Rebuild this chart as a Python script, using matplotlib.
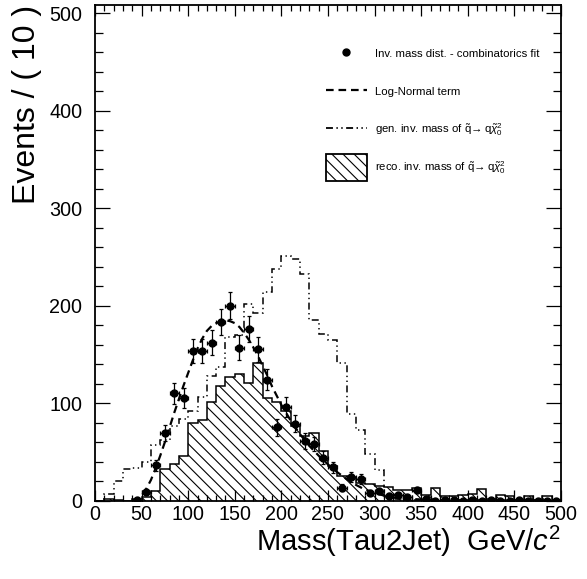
import numpy as np
import matplotlib
matplotlib.use("Agg")
import matplotlib.pyplot as plt
from matplotlib.lines import Line2D
from matplotlib.patches import Patch
from matplotlib.ticker import MultipleLocator

# ---------------- data ----------------
bin_edges = np.arange(0, 510, 10)          # 50 bins of width 10

# reconstructed (hatched) histogram
reco_counts = [0, 2, 1, 0, 2, 4, 10, 32, 37, 46,
               80, 83, 101, 118, 127, 130, 121, 141, 105, 101,
               92, 76, 66, 69, 51, 35, 25, 24, 18, 17,
               15, 14, 11, 11, 13, 6, 13, 5, 5, 6,
               7, 12, 2, 6, 5, 1, 5, 1, 5, 1]

# generated (dash-dot) histogram
gen_counts = [0, 7, 20, 32, 33, 39, 57, 62, 76, 84,
              92, 106, 128, 137, 168, 170, 202, 192, 214, 238,
              251, 248, 232, 185, 171, 165, 141, 89, 72, 48,
              31, 3, 2, 1, 1, 1, 0, 1, 0, 0,
              1, 0, 0, 0, 0, 0, 0, 0, 0, 0]

# data points (bin centres 45 ... 495)
data_x = np.arange(45, 500, 10)
data_counts = [1, 9, 36, 69, 110, 105,
               153, 153, 162, 183, 200, 157, 176, 155, 124, 75,
               96, 79, 61, 58, 44, 34, 13, 24, 22, 8,
               10, 5, 6, 4, 11, 2, 0, 1, 1, 0,
               1, 0, 1, 0, 0, 1, 0, 0, 0, 0]
data_err = [1.0, 3.0, 6.0, 8.3, 10.5, 10.2,
            12.4, 12.4, 12.7, 13.5, 14.1, 12.5, 13.3, 12.4, 11.1, 8.7,
            9.8, 8.9, 7.8, 7.6, 6.6, 5.8, 3.6, 4.9, 4.7, 2.8,
            3.2, 2.2, 2.4, 2.0, 3.3, 1.4, 1.15, 1.0, 1.0, 1.15,
            1.0, 1.15, 1.0, 1.15, 1.15, 1.0, 1.15, 1.15, 1.15, 1.15]

# Log-normal fit term
lognorm_x = [40, 45, 50, 55, 60, 65, 70, 75, 80, 85, 90, 95, 100, 105, 110,
             115, 120, 125, 130, 135, 140, 145, 150, 155, 160, 165, 170, 175,
             180, 185, 190, 200, 210, 220, 230, 240, 250, 260, 270, 280, 290,
             300, 310, 320, 340, 360, 400, 450, 500]
lognorm_y = [0, 1, 5, 12, 21, 33, 46, 60, 75, 90, 104, 118, 131, 144, 156,
             166, 174, 179, 182, 184, 185, 184, 182, 178, 172, 165, 157, 148,
             138, 128, 117, 98, 82, 68, 56, 46, 37, 29, 22, 16, 11,
             8, 5, 3, 1.5, 0.7, 0.2, 0.05, 0]

x_ticks = [0, 50, 100, 150, 200, 250, 300, 350, 400, 450, 500]
y_ticks = [0, 100, 200, 300, 400, 500]

labels = ["Inv. mass dist. - combinatorics fit",
          "Log-Normal term",
          r"gen. inv. mass of $\tilde{\mathrm{q}}\!\rightarrow \mathrm{q}\tilde{\chi}^{2}_{0}$",
          r"reco. inv. mass of $\tilde{\mathrm{q}}\!\rightarrow \mathrm{q}\tilde{\chi}^{2}_{0}$"]

# ---------------- style ----------------
plt.rcParams["font.family"] = ["Liberation Sans", "DejaVu Sans"]
plt.rcParams["mathtext.fontset"] = "custom"
plt.rcParams["mathtext.rm"] = "Liberation Sans"
plt.rcParams["mathtext.it"] = "Liberation Sans:italic"
plt.rcParams["mathtext.bf"] = "Liberation Sans:bold"
plt.rcParams["mathtext.sf"] = "Liberation Sans"
plt.rcParams["hatch.linewidth"] = 0.8
plt.rcParams["lines.scale_dashes"] = False

HATCH = "\\\\\\"
DASHDOT = (0, (5, 2.5, 1, 2.5, 1, 2.5))
DASHED = (0, (5.5, 3.5))

W, H = 587, 579
fig = plt.figure(figsize=(W / 100, H / 100), dpi=100)
ax_l, ax_r, ax_t, ax_b = 95, 561, 4.7, 500.5
ax = fig.add_axes([ax_l / W, 1 - ax_b / H, (ax_r - ax_l) / W, (ax_b - ax_t) / H])

# hatched reco histogram
ax.stairs(reco_counts, bin_edges, fill=True, facecolor="none", edgecolor="black",
          hatch=HATCH, linewidth=0, zorder=1)
ax.stairs(reco_counts, bin_edges, color="black", linewidth=1.1, zorder=2)

# generated histogram, dash-dot-dot
ax.stairs(gen_counts, bin_edges, color="black", linewidth=1.1,
          linestyle=DASHDOT, zorder=3)

# log-normal term
ax.plot(lognorm_x, lognorm_y, color="black", linewidth=1.6,
        linestyle=DASHED, zorder=4)

# data points
dc = np.array(data_counts, dtype=float)
de = np.array(data_err, dtype=float)
ax.errorbar(data_x, dc, xerr=5, yerr=[np.minimum(de, dc), de], fmt="o",
            color="black", markersize=5, elinewidth=0.9, capsize=1.5,
            capthick=0.9, zorder=5)

# axes
ax.set_xlim(0, 500)
ax.set_ylim(0, 508.8)
ax.set_xticks(x_ticks)
ax.set_yticks(y_ticks)
ax.xaxis.set_minor_locator(MultipleLocator(10))
ax.yaxis.set_minor_locator(MultipleLocator(20))
ax.tick_params(which="both", direction="in", top=True, right=True, color="black")
ax.tick_params(axis="x", which="major", length=8, width=0.9, labelsize=14.2, pad=3)
ax.tick_params(axis="x", which="minor", length=4, width=0.9)
ax.tick_params(axis="y", which="major", length=10.5, width=0.9, labelsize=14.2, pad=9)
ax.tick_params(axis="y", which="minor", length=5.5, width=0.9)
for s in ax.spines.values():
    s.set_linewidth(1.3)

ax.set_xlabel(r"Mass(Tau2Jet)  GeV/$\mathit{c}^{2}$", fontsize=21)
ax.xaxis.label.set_ha("right")
ax.xaxis.label.set_va("baseline")
ax.xaxis.set_label_coords(1.0, -(551.0 - ax_b) / (ax_b - ax_t))

ax.set_ylabel("Events / ( 10 )", fontsize=23)
yl = ax.yaxis.label
yl.set_rotation_mode("default")
yl.set_ha("center")
yl.set_va("top")
ax.yaxis.set_label_coords((27 - ax_l) / (ax_r - ax_l), 1.0)

# legend
handles = [Line2D([], [], marker="o", linestyle="none", color="black", markersize=5),
           Line2D([], [], color="black", linewidth=1.6, linestyle=DASHED),
           Line2D([], [], color="black", linewidth=1.3, linestyle=DASHDOT),
           Patch(facecolor="white", edgecolor="black", hatch=HATCH, linewidth=1.3)]
fs = 8.2
em = fs * 100 / 72
row_h = 27.0                        # wanted handle box height in px
hh = (row_h / em - 0.245) / 0.65    # matplotlib handleheight giving that box
leg = ax.legend(handles, labels, loc="upper left",
                bbox_to_anchor=((325.7 - ax_l) / (ax_r - ax_l),
                                (ax_b - 40.5) / (ax_b - ax_t)),
                frameon=False, fontsize=fs, borderpad=0, borderaxespad=0,
                handlelength=41 / em, handleheight=hh,
                labelspacing=11 / em, handletextpad=8.3 / em)
# centre the line/marker handles on their text rows (as in the reference)
for h in leg.legend_handles[:3]:
    h.set_ydata(np.asarray(h.get_ydata(), dtype=float) - 2.4)

fig.savefig("out.png", dpi=100)
